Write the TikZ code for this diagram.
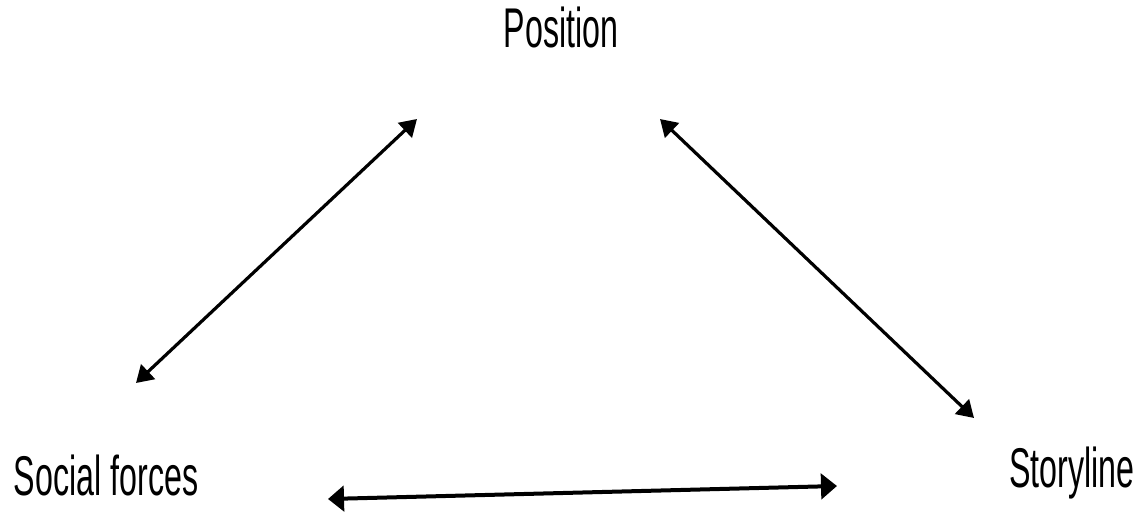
\documentclass[tikz,border=0pt]{standalone}
\usepackage{fontspec}
\setmainfont{Liberation Sans}[FakeStretch=0.575]
\usetikzlibrary{arrows.meta}
\begin{document}
\begin{tikzpicture}[x=0.75pt,y=-0.75pt,
  lbl/.style={anchor=base,inner sep=0pt,font=\fontsize{42}{48}\selectfont},
  diag/.style={line width=2.4pt,{Triangle[length=12.5pt,width=15pt]}-{Triangle[length=12.5pt,width=15pt]}},
  flat/.style={line width=3pt,{Triangle[length=12pt,width=19pt]}-{Triangle[length=12pt,width=19pt]}}]
\useasboundingbox[fill=white] (0,0) rectangle (1136,514);
\node[lbl] (pos) at (561,47) {Position};
\node[lbl] (soc) at (106,495) {Social forces};
\node[lbl] (sto) at (1072,487) {Storyline};
\coordinate (a1) at (136,383);
\coordinate (a2) at (417,119);
\coordinate (b1) at (660,119);
\coordinate (b2) at (974,418);
\coordinate (c1) at (328,499);
\coordinate (c2) at (837,486);
\draw[diag] (a1) -- (a2);
\draw[diag] (b1) -- (b2);
\draw[flat] (c1) -- (c2);
\end{tikzpicture}
\end{document}
